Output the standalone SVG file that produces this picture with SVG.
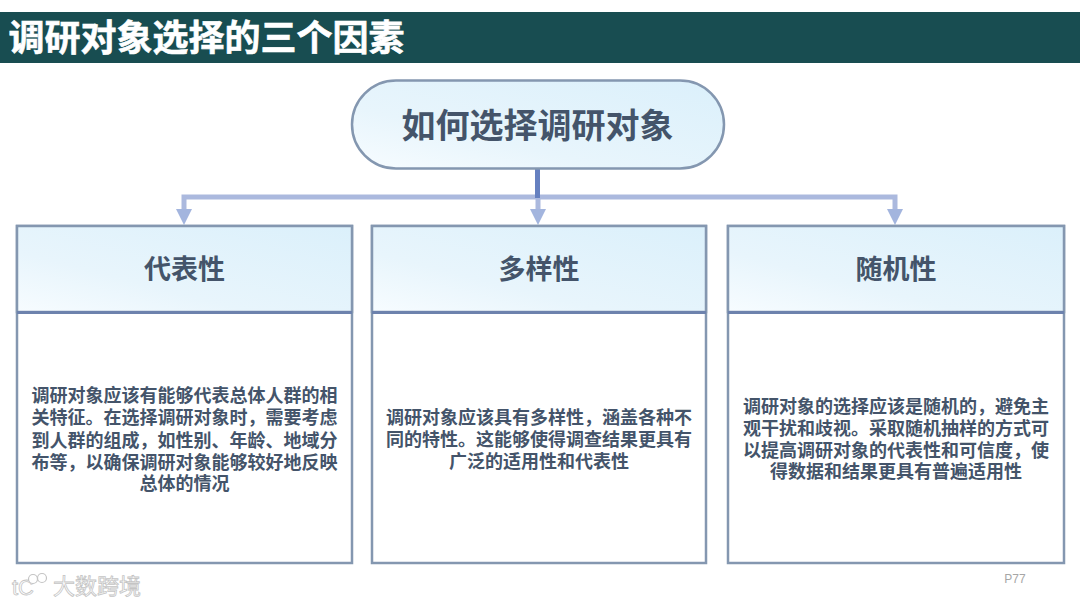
<svg xmlns="http://www.w3.org/2000/svg" width="1080" height="607" viewBox="0 0 1080 607">
<defs>
<linearGradient id="g" x1="0" y1="1" x2="1" y2="0"><stop offset="0" stop-color="#f7fcff"/><stop offset="0.35" stop-color="#e8f5fc"/><stop offset="1" stop-color="#dbf0fb"/></linearGradient>
</defs>
<style>
text{font-family:"Liberation Sans","Noto Sans CJK SC",sans-serif;font-weight:700;text-anchor:middle}
.h{font-size:27px;fill:#44546a}
.b{font-size:18px;fill:#44546a}
.box{fill:#fff;stroke:#8497b0;stroke-width:2.5}
.head{fill:url(#g);stroke:#8497b0;stroke-width:2.5}
.c{fill:none;stroke:#abb9de;stroke-width:5}
</style>
<rect width="1080" height="607" fill="#fff"/>
<g id="title">
<rect x="0" y="12" width="1080" height="51" fill="#184d51"/>
<text x="206.500" y="51" style="font-size:36px;fill:#fff;stroke:#fff;stroke-width:0.6">调研对象选择的三个因素</text>
</g>
<g id="connectors">
<path class="c" d="M184 212V197H895V212"/>
<path class="c" d="M538 197V212"/>
<path d="M176 209H192L184 225ZM530 209H546L538 225ZM887 209H903L895 225Z" fill="#a3b5de"/>
<path d="M537.500 168V198" stroke="#6580c0" stroke-width="5" fill="none"/>
</g>
<g id="root">
<rect x="352" y="80.500" width="372" height="88" rx="44" fill="url(#g)" stroke="#8497b0" stroke-width="2.500"/>
<text x="537.500" y="138" style="font-size:34px;fill:#44546a">如何选择调研对象</text>
</g>
<g id="node1">
<rect class="box" x="17" y="226" width="335" height="337"/>
<rect class="head" x="17" y="226" width="335" height="86"/>
<path d="M17 312.500H352" stroke="#6d82ad" stroke-width="3"/>
<text class="h" x="184.500" y="279">代表性</text>
<text class="b" x="184.500" y="402">调研对象应该有能够代表总体人群的相</text>
<text class="b" x="184.500" y="424">关特征。在选择调研对象时，需要考虑</text>
<text class="b" x="184.500" y="447">到人群的组成，如性别、年龄、地域分</text>
<text class="b" x="184.500" y="469">布等，以确保调研对象能够较好地反映</text>
<text class="b" x="184.500" y="490">总体的情况</text>
</g>
<g id="node2">
<rect class="box" x="372" y="226" width="334" height="337"/>
<rect class="head" x="372" y="226" width="334" height="86"/>
<path d="M372 312.500H706" stroke="#6d82ad" stroke-width="3"/>
<text class="h" x="539" y="279">多样性</text>
<text class="b" x="539" y="424">调研对象应该具有多样性，涵盖各种不</text>
<text class="b" x="539" y="446">同的特性。这能够使得调查结果更具有</text>
<text class="b" x="539" y="468">广泛的适用性和代表性</text>
</g>
<g id="node3">
<rect class="box" x="728" y="226" width="336" height="337"/>
<rect class="head" x="728" y="226" width="336" height="86"/>
<path d="M728 312.500H1064" stroke="#6d82ad" stroke-width="3"/>
<text class="h" x="896" y="279">随机性</text>
<text class="b" x="896" y="413">调研对象的选择应该是随机的，避免主</text>
<text class="b" x="896" y="435">观干扰和歧视。采取随机抽样的方式可</text>
<text class="b" x="896" y="457">以提高调研对象的代表性和可信度，使</text>
<text class="b" x="896" y="478">得数据和结果更具有普遍适用性</text>
</g>
<text x="1015" y="583" style="font-size:12px;font-weight:400;fill:#a6a6a6">P77</text>
<g id="watermark">
<text x="23" y="595" style="font-size:22px;font-weight:400;fill:#fff;stroke:#c4c4c4;stroke-width:0.8">tC</text>
<circle cx="33" cy="579" r="4.500" fill="#fff" stroke="#c4c4c4" stroke-width="1.200"/>
<circle cx="42" cy="578" r="4.500" fill="#fff" stroke="#c4c4c4" stroke-width="1.200"/>
<text x="97" y="594" style="font-size:22px;font-weight:400;fill:#fff;stroke:#c4c4c4;stroke-width:0.8">大数跨境</text>
</g>
</svg>
